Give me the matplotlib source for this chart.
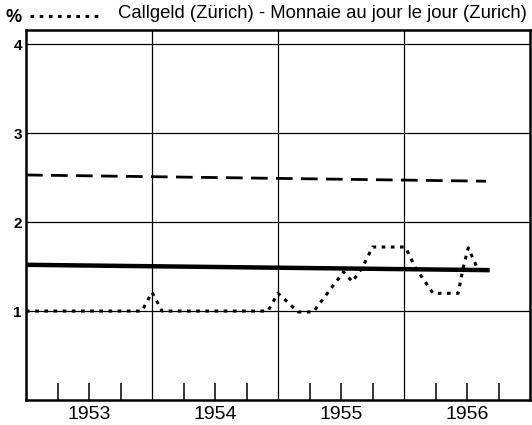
import numpy as np
import matplotlib
matplotlib.use("Agg")
import matplotlib.pyplot as plt
from matplotlib.lines import Line2D

plt.rcParams['font.family'] = ['Liberation Sans', 'DejaVu Sans']

# Call money (Zurich), monthly points
call_x = [1953.0, 1953.92, 1954.0, 1954.08, 1954.92, 1955.0, 1955.16, 1955.28,
          1955.52, 1955.59, 1955.67, 1955.75, 1956.01, 1956.09, 1956.23,
          1956.43, 1956.47, 1956.51, 1956.58]
call_y = [1.0, 1.0, 1.21, 1.0, 1.0, 1.2, 0.99, 0.99,
          1.44, 1.33, 1.49, 1.72, 1.72, 1.49, 1.2,
          1.2, 1.49, 1.71, 1.49]

# the two other (unlabelled) series
solid_x = [1953.0, 1956.68]
solid_y = [1.52, 1.46]
dashed_x = [1953.0, 1956.65]
dashed_y = [2.53, 2.46]

years = [1953, 1954, 1955, 1956]
y_ticks = [1, 2, 3, 4]

fig = plt.figure(figsize=(5.32, 4.25), dpi=100)
ax = fig.add_axes([26/532, 1 - 400/425, (530-26)/532, 370/425])

ax.set_xlim(1953, 1957)
ax.set_ylim(0, 4.16)

# grid
for yy in y_ticks:
    ax.axhline(yy, color='black', lw=0.9, zorder=1)
for xx in years[1:]:
    ax.axvline(xx, color='black', lw=0.9, zorder=1)

# quarter ticks standing on the base line
quarters = [y + q for y in years for q in (0.25, 0.5, 0.75)]
ax.vlines(quarters, 0, 0.19, color='black', lw=1.1, zorder=1)

dots = (0, (1.2, 1.8))
ax.plot(solid_x, solid_y, color='black', lw=3.2, solid_capstyle='butt', zorder=3)
ax.plot(dashed_x, dashed_y, color='black', lw=2.0, dashes=(6, 3), zorder=3)
ax.plot(call_x, call_y, color='black', lw=2.2, linestyle=dots, zorder=4)

for s in ax.spines.values():
    s.set_linewidth(1.8)

ax.set_xticks([y + 0.5 for y in years])
ax.set_xticklabels([str(y) for y in years], fontsize=14)
ax.tick_params(axis='x', length=0, pad=4)
ax.set_yticks(y_ticks)
ax.set_yticklabels([str(v) for v in y_ticks], fontsize=11, fontweight='bold')
ax.tick_params(axis='y', length=0, pad=3)

# legend line at the top
fig.text(5/532, 1 - 17/425, '%', fontsize=13, fontweight='bold', va='center')
fig.add_artist(Line2D([30/532, 102/532], [1 - 16/425, 1 - 16/425],
                      color='black', lw=2.2, linestyle=dots))
fig.text(118/532, 1 - 13/425, 'Callgeld (Zürich) - Monnaie au jour le jour (Zurich)',
         fontsize=13.3, va='center')

fig.savefig('out.png', dpi=100)
